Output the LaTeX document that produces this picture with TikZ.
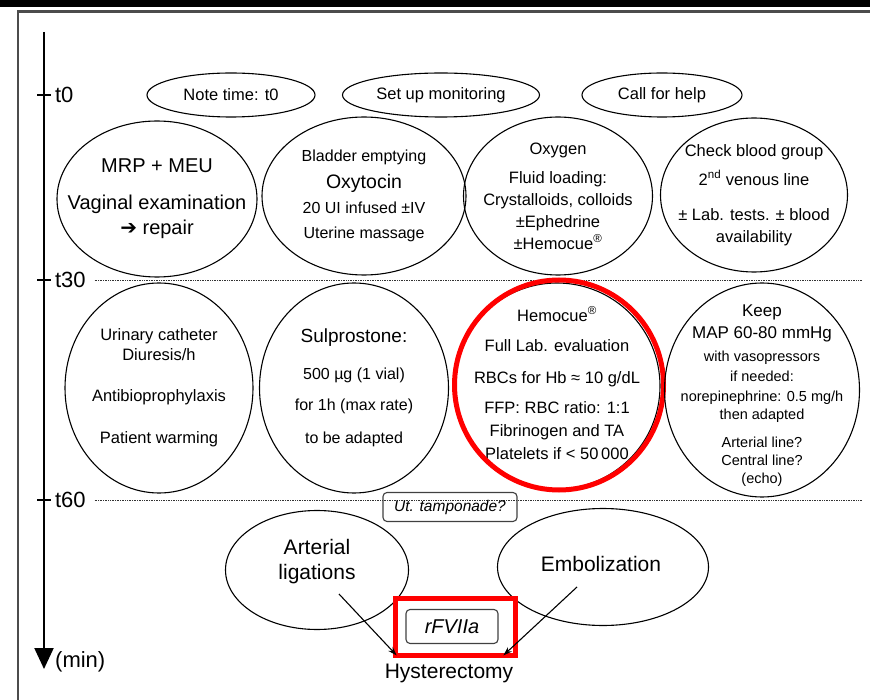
\documentclass[tikz,border=0pt]{standalone}
\usepackage{fontspec}
\setmainfont{Liberation Sans}
\newfontfamily\symfont{DejaVu Sans}
\usetikzlibrary{shapes.geometric,arrows.meta}
\begin{document}
\begin{tikzpicture}[x=1pt,y=-1pt,
    oval/.style={draw=black, line width=1.1pt, ellipse, inner sep=0pt},
    txt/.style={align=center, inner sep=0pt},
    tagbox/.style={draw=black!75, line width=1.1pt, rounded corners=4pt, inner sep=0pt},
    hilite/.style={draw=red, line width=5pt, inner sep=0pt},
    fs/.style 2 args={font=\fontsize{#1}{#2}\selectfont}]
	\useasboundingbox (0,0) rectangle (870,700);
	\fill [black] (0,0) rectangle (870,7.5);
	\draw [black!70, line width=2.5pt] (18,11.5) rectangle (885,715);
	\coordinate (axtop) at (44,32);
	\coordinate (axend) at (44,669);
	\draw [black, line width=2.2pt, -{Triangle[width=19pt,length=21pt]}] (axtop) -- (axend);
	\foreach \y/\t in {95/0,280/30,500/60}
		\draw [black, line width=2pt] (37,\y) -- (51,\y) node [right, inner sep=3pt, fs={22}{26}] (t\t) {t\t};
	\node [right, inner sep=2pt, fs={22}{26}] (unit) at (53,662) {(min)};
	\draw [black!80, densely dotted, line width=0.7pt] ([xshift=5pt]t30.east) -- (862,280);
	\draw [black!80, densely dotted, line width=0.7pt] ([xshift=5pt]t60.east) -- (862,500);
	\node [oval, minimum width=168pt, minimum height=44pt] (notetime) at (231,95) {};
	\node [txt, fs={16.5}{20}] (notetimetxt) at (notetime) {Note time: t0};
	\node [oval, minimum width=197pt, minimum height=44pt] (monitor) at (441,95) {};
	\node [txt, fs={16.5}{20}] (monitortxt) at (monitor) {Set up monitoring};
	\node [oval, minimum width=160pt, minimum height=44pt] (callhelp) at (662,95) {};
	\node [txt, fs={16.5}{20}] (callhelptxt) at (callhelp) {Call for help};
	\node [oval, minimum width=200pt, minimum height=156pt] (mrp) at (157,199) {};
	\node [txt, fs={20}{25}] (mrptxt) at (mrp) {MRP + MEU\\[12pt] Vaginal examination\\ {\symfont ➔} repair};
	\node [oval, minimum width=204pt, minimum height=158pt] (bladder) at (364,196) {};
	\node [txt, fs={16}{25}] (bladdertxt) at (bladder) {Bladder emptying\\[2pt] {\fontsize{19.5}{25}\selectfont Oxytocin}\\ 20 UI infused ±IV\\ Uterine massage};
	\node [oval, minimum width=189pt, minimum height=158pt] (oxygen) at (558,196) {};
	\node [txt, fs={16.5}{22}] (oxygentxt) at (oxygen) {Oxygen\\[7pt] Fluid loading:\\ Crystalloids, colloids\\ ±Ephedrine\\ ±Hemocue\textsuperscript{®}};
	\node [oval, minimum width=187pt, minimum height=154pt] (bloodgrp) at (754,195) {};
	\node [txt, fs={16.5}{22}] (bloodgrptxt) at (bloodgrp) {Check blood group\\[7pt] 2\textsuperscript{nd} venous line\\[13pt] ± Lab. tests. ± blood\\ availability};
	\node [oval, minimum width=188pt, minimum height=210pt] (urinary) at (159,388) {};
	\node [txt, fs={16.5}{20}] (urinarytxt) at (urinary) {Urinary catheter\\ Diuresis/h\\[21pt] Antibioprophylaxis\\[22pt] Patient warming};
	\node [oval, minimum width=189pt, minimum height=210pt] (sulpro) at (354,388) {};
	\node [txt, fs={16}{31}] (sulprotxt) at (sulpro) {{\fontsize{19}{31}\selectfont Sulprostone:}\\[6pt] 500 µg (1 vial)\\ for 1h (max rate)\\[2pt] to be adapted};
	\node [oval, minimum width=206pt, minimum height=206pt] (hemocue) at (557,386) {};
	\node [txt, fs={16.5}{23}] (hemocuetxt) at (557,383) {Hemocue\textsuperscript{®}\\[7pt] Full Lab. evaluation\\[9pt] RBCs for Hb ≈ 10 g/dL\\[7pt] FFP: RBC ratio: 1:1\\ Fibrinogen and TA\\ Platelets if < 50\,000};
	\node [hilite, ellipse, minimum width=209pt, minimum height=210pt] (hemohl) at (559,385) {};
	\node [oval, minimum width=195pt, minimum height=214pt] (keepmap) at (762,390) {};
	\node [txt, fs={14.5}{18}] (keepmaptxt) at (762,396) {{\fontsize{17}{18}\selectfont Keep}\\[4pt] {\fontsize{17}{18}\selectfont MAP 60-80 mmHg}\\[5pt] with vasopressors\\[2pt] if needed:\\[2pt] norepinephrine: 0.5 mg/h\\ then adapted\\[10pt] Arterial line?\\ Central line?\\ (echo)};
	\node [tagbox, minimum width=134pt, minimum height=29pt, font=\fontsize{15.5}{18}\selectfont\itshape] (tampon) at (450,507) {Ut. tamponade?};
	\node [oval, minimum width=183pt, minimum height=119pt] (artlig) at (317,570) {};
	\node [txt, fs={21}{25}] (artligtxt) at (317,562) {Arterial\\ ligations};
	\node [oval, minimum width=211pt, minimum height=117pt] (emboliz) at (603,567) {};
	\node [txt, fs={21}{25}] (emboliztxt) at (601,564) {Embolization};
	\node [tagbox, minimum width=92pt, minimum height=34pt, font=\fontsize{20}{24}\selectfont\itshape] (rfviia) at (452,626.5) {rFVIIa};
	\node [hilite, minimum width=120pt, minimum height=57pt] (rfhl) at (455.5,627) {};
	\node [inner sep=2pt, fs={21}{25}] (hyst) at (449,673) {Hysterectomy};
	\coordinate (artfoot) at (339,594);
	\coordinate (embfoot) at (577,587);
	\draw [black, line width=1.1pt, -{Stealth[length=9pt,width=6pt]}] (artfoot) -- ([shift={(14pt,6pt)}]hyst.north west);
	\draw [black, line width=1.1pt, -{Stealth[length=9pt,width=6pt]}] (embfoot) -- ([shift={(-12pt,6pt)}]hyst.north east);
\end{tikzpicture}
\end{document}
